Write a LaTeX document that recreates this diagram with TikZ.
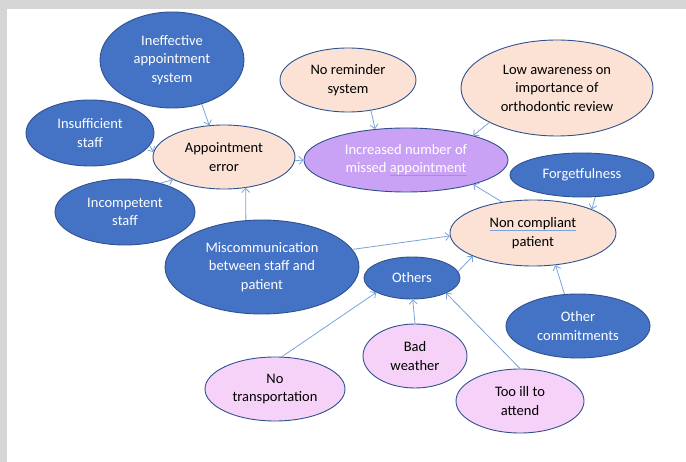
\documentclass[tikz,border=0pt]{standalone}
\usepackage{fontspec}
\setmainfont{Carlito}
\usepackage{xcolor}
\usepackage{tikz}
\usetikzlibrary{shapes.geometric,arrows.meta}

\definecolor{causeblue}{HTML}{4472C4}
\definecolor{rimblue}{HTML}{2F528F}
\definecolor{peach}{HTML}{FBE2D5}
\definecolor{lilac}{HTML}{C9A2F6}
\definecolor{pinkish}{HTML}{F7D2F8}
\definecolor{linkblue}{HTML}{7AA2DC}
\definecolor{marble}{HTML}{D6D6D6}
\newcommand{\spellmark}[1]{\setbox0\hbox{#1}\rlap{\color{linkblue}\rule[-3pt]{\wd0}{0.9pt}}\box0}

\begin{document}
\begin{tikzpicture}[x=1pt,y=-1pt,
  bubble/.style={ellipse, draw=rimblue, line width=0.9pt, inner sep=0pt, align=center,
    font=\fontsize{14.5}{18.5}\selectfont},
  bluecause/.style={bubble, fill=causeblue, text=white},
  peachcause/.style={bubble, fill=peach, text=black},
  pinkcause/.style={bubble, fill=pinkish, text=black},
  effect/.style={bubble, fill=lilac, text=white},
  link/.style={linkblue, line width=0.8pt, -{Straight Barb[length=4pt,width=8pt]}}]
 \useasboundingbox (0,0) rectangle (686,462);
 \fill[marble] (0,0) rectangle (686,462);
 \fill[white] (7,9) rectangle (686,462);

 \node [bluecause,  minimum width=144pt, minimum height=96pt] (ineff)    at (172,60)  {Ineffective\\appointment\\system};
 \node [bluecause,  minimum width=128pt, minimum height=66pt] (insuff)   at (90,133)  {Insufficient\\staff};
 \node [peachcause, minimum width=142pt, minimum height=64pt] (apperr)   at (224,157) {Appointment\\error};
 \node [bluecause,  minimum width=140pt, minimum height=66pt] (incomp)   at (125,212) {Incompetent\\staff};
 \node [bluecause,  minimum width=194pt, minimum height=94pt] (miscomm)  at (262,267) {Miscommunication\\between staff and\\patient};
 \node [peachcause, minimum width=136pt, minimum height=64pt] (norem)    at (348,80)  {No reminder\\system};
 \node [peachcause, minimum width=192pt, minimum height=96pt] (lowaware) at (557,88)  {Low awareness on\\importance of\\orthodontic review};
 \node [effect,     minimum width=204pt, minimum height=64pt] (missed)   at (406,160) {Increased number of\\missed \spellmark{appointment}};
 \node [bluecause,  minimum width=144pt, minimum height=44pt] (forget)   at (582,175) {Forgetfulness};
 \node [peachcause, minimum width=166pt, minimum height=66pt] (noncomp)  at (533,233) {\spellmark{Non compliant}\\patient};
 \node [bluecause,  minimum width=96pt,  minimum height=42pt] (others)   at (412,278) {Others};
 \node [bluecause,  minimum width=144pt, minimum height=64pt] (othcomm)  at (578,326) {Other\\commitments};
 \node [pinkcause,  minimum width=104pt, minimum height=64pt] (badweath) at (415,356) {Bad\\weather};
 \node [pinkcause,  minimum width=128pt, minimum height=64pt] (tooill)   at (520,401) {Too ill to\\attend};
 \node [pinkcause,  minimum width=140pt, minimum height=64pt] (notrans)  at (275,389) {No\\transportation};

  \draw [link] (ineff.-56) -- (apperr.115);
  \draw [link] (insuff.-12) -- (apperr.176);
  \draw [link] (incomp.39) -- (apperr.204);
  \draw [link] (miscomm.109) -- (apperr.-55);
  \draw [link] (miscomm.11.5) -- (noncomp.182);
  \draw [link] (apperr.-3) -- (missed.180);
  \draw [link] (norem.-53) -- (missed.135);
  \draw [link] (lowaware.207) -- (missed.20);
  \draw [link] (noncomp.135) -- (missed.-20);
  \draw [link] (forget.-59) -- (noncomp.22);
  \draw [link] (othcomm.113) -- (noncomp.-55);
  \draw [link] (others.8) -- (noncomp.201);
  \draw [link] (notrans.78) -- (others.202);
  \draw [link] (badweath.north) -- (others.-88);
  \draw [link] (tooill.north) -- (others.-24);
\end{tikzpicture}
\end{document}
